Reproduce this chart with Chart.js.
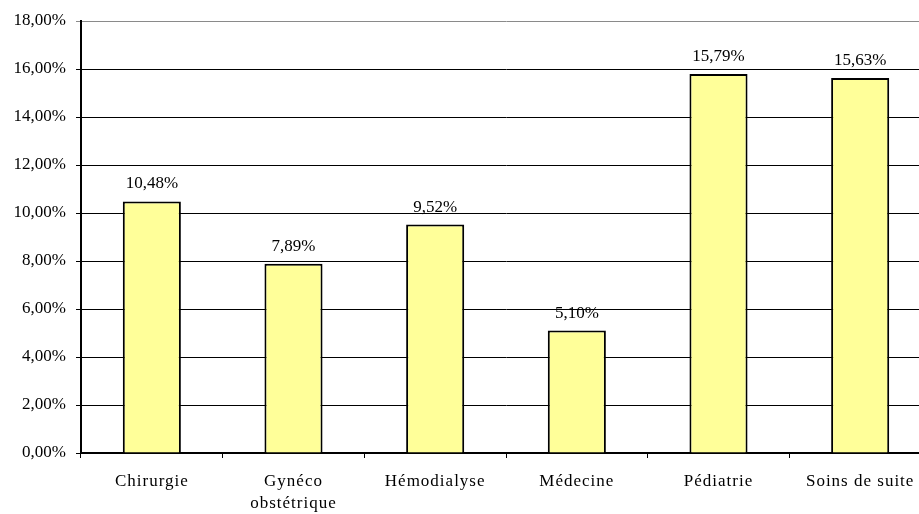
<!DOCTYPE html>
<html>
<head>
<meta charset="utf-8">
<script src="https://cdn.jsdelivr.net/npm/chart.js@4"></script>
<style>
    html, body { margin: 0; padding: 0; overflow: hidden; background: #fff; }
    .wrap { width: 940px; height: 514px; }
</style>
</head>
<body>
<div class="wrap"><canvas id="chart" width="940" height="514"></canvas></div>
<script>
    const services = ['Chirurgie', ['Gynéco', 'obstétrique'], 'Hémodialyse', 'Médecine', 'Pédiatrie', 'Soins de suite'];
    const rates = [10.48, 7.89, 9.52, 5.10, 15.79, 15.63];

    const FONT = 'Liberation Serif';
    const fmt = (v) => v.toFixed(2).replace('.', ',') + '%';

    // writes each bar's value just above it
    const valueLabels = {
        id: 'valueLabels',
        afterDatasetsDraw(chart) {
            const ctx = chart.ctx;
            const meta = chart.getDatasetMeta(0);
            ctx.save();
            ctx.font = `17px "${FONT}"`;
            ctx.fillStyle = '#000';
            ctx.textAlign = 'center';
            ctx.textBaseline = 'alphabetic';
            meta.data.forEach((bar, i) => {
                ctx.fillText(fmt(rates[i]), bar.x, bar.y - 13);
            });
            ctx.restore();
        },
    };

    // category names are set a little loose
    function spaceOutLabels(scale) {
        if (scale._spaced) return;
        scale._spaced = true;
        const draw = scale.drawLabels;
        scale.drawLabels = function (area) {
            const ctx = this.ctx;
            ctx.save();
            ctx.letterSpacing = '1px';
            draw.call(this, area);
            ctx.restore();
        };
    }

    new Chart(document.getElementById('chart'), {
        type: 'bar',
        data: {
            labels: services,
            datasets: [{
                data: rates,
                backgroundColor: '#FFFF99',
                borderColor: '#000',
                borderWidth: 2,
                categoryPercentage: 1,
                barPercentage: 0.41,
            }],
        },
        options: {
            responsive: false,
            animation: false,
            layout: { padding: { top: 21, right: 9, left: 0, bottom: 0 } },
            plugins: {
                legend: { display: false },
                tooltip: { enabled: false },
            },
            scales: {
                x: {
                    afterFit: (scale) => {
                        scale.height = 61;
                        spaceOutLabels(scale);
                    },
                    grid: {
                        drawOnChartArea: false,
                        drawTicks: true,
                        tickLength: 5,
                        color: '#000',
                    },
                    border: { color: '#000', width: 2 },
                    ticks: {
                        color: '#000',
                        padding: 12,
                        maxRotation: 0,
                        autoSkip: false,
                        font: { family: FONT, size: 17, lineHeight: 1.3 },
                    },
                },
                y: {
                    min: 0,
                    max: 18,
                    afterFit: (scale) => { scale.width = 81; },
                    grid: {
                        color: (c) => (c.tick && c.tick.value === 18 ? '#8a8a8a' : '#000'),
                        tickLength: 5,
                        lineWidth: 1,
                    },
                    border: { color: '#000', width: 2 },
                    ticks: {
                        stepSize: 2,
                        color: '#000',
                        padding: 10,
                        font: { family: FONT, size: 17 },
                        callback: (v) => fmt(v),
                    },
                },
            },
        },
        plugins: [valueLabels],
    });
</script>
</body>
</html>
